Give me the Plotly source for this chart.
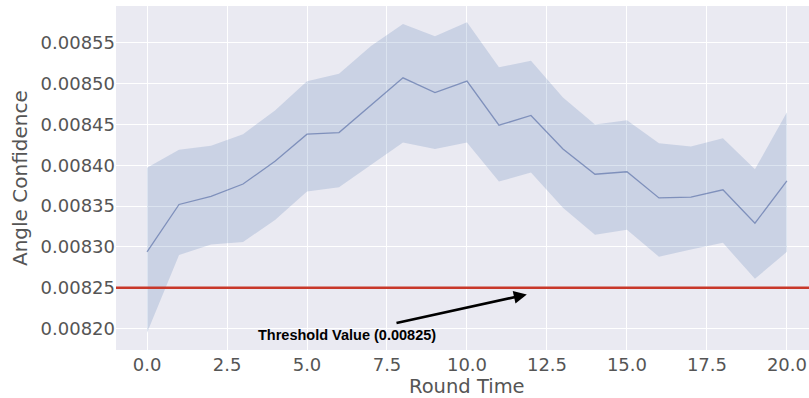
import plotly.graph_objects as go

rounds = list(range(21))
mean_vals = [0.008294, 0.008352, 0.008362, 0.008377, 0.008405, 0.008438, 0.008440, 0.008473, 0.008507, 0.008489, 0.008503,
             0.008449, 0.008461, 0.008420, 0.008389, 0.008392, 0.008360, 0.008361, 0.008370, 0.008329, 0.008381]
upper_vals = [0.008397, 0.008419, 0.008424, 0.008438, 0.008467, 0.008503, 0.008512, 0.008546, 0.008573, 0.008558, 0.008575,
              0.008520, 0.008528, 0.008483, 0.008450, 0.008455, 0.008427, 0.008423, 0.008433, 0.008395, 0.008465]
lower_vals = [0.008195, 0.008290, 0.008303, 0.008306, 0.008333, 0.008368, 0.008373, 0.008401, 0.008428, 0.008420, 0.008428,
              0.008380, 0.008391, 0.008348, 0.008315, 0.008321, 0.008288, 0.008297, 0.008305, 0.008261, 0.008294]
threshold = 0.00825
threshold_label = "Threshold Value (0.00825)"
x_title = "Round Time"
y_title = "Angle Confidence"
x_ticks = [0, 2.5, 5, 7.5, 10, 12.5, 15, 17.5, 20]
x_tick_text = ["0.0", "2.5", "5.0", "7.5", "10.0", "12.5", "15.0", "17.5", "20.0"]

fig = go.Figure()
fig.add_trace(go.Scatter(x=rounds, y=upper_vals, mode="lines", line=dict(width=0),
                         hoverinfo="skip", showlegend=False))
fig.add_trace(go.Scatter(x=rounds, y=lower_vals, mode="lines", line=dict(width=0),
                         fill="tonexty", fillcolor="rgba(76,114,176,0.2)",
                         hoverinfo="skip", showlegend=False))
fig.add_trace(go.Scatter(x=rounds, y=mean_vals, mode="lines",
                         line=dict(color="rgba(76,100,160,0.6)", width=1.3), showlegend=False))

fig.add_shape(type="line", xref="paper", x0=0, x1=1, yref="y", y0=threshold, y1=threshold,
              line=dict(color="#c8382a", width=2.6))

fig.add_annotation(x=11.87, y=0.0082418, ax=7.75, ay=0.0082065, xref="x", yref="y",
                   axref="x", ayref="y", text="", showarrow=True, arrowhead=2,
                   arrowsize=1, arrowwidth=2.6, arrowcolor="black")
fig.add_annotation(x=6.25, y=0.0081925, xref="x", yref="y", text="<b>" + threshold_label + "</b>",
                   showarrow=False, font=dict(family="Liberation Sans, Arial", size=14.5, color="black"))

fig.add_annotation(x=0.5065, y=-0.107, xref="paper", yref="paper", text=x_title,
                   showarrow=False, xanchor="center", yanchor="middle",
                   font=dict(family="DejaVu Sans", size=19.5, color="#555555"))
fig.add_annotation(x=-0.1385, y=0.5, xref="paper", yref="paper", text=y_title, textangle=-90,
                   showarrow=False, xanchor="center", yanchor="middle",
                   font=dict(family="DejaVu Sans", size=20, color="#555555"))

fig.update_layout(
    width=809, height=398,
    margin=dict(l=116, r=0, t=6, b=48),
    paper_bgcolor="white", plot_bgcolor="#EAEAF2",
    font=dict(family="DejaVu Sans", color="#4a4a4a"),
    showlegend=False,
)
fig.update_xaxes(range=[-0.97, 20.69], tickvals=x_ticks, ticktext=x_tick_text,
                 showgrid=True, gridcolor="white", gridwidth=1, zeroline=False,
                 tickfont=dict(size=18, color="#555555"), ticklabelstandoff=2,
                 ticks="", showline=False)
fig.update_yaxes(range=[0.0081738, 0.008595], tick0=0.0082, dtick=0.00005, tickformat=".5f",
                 showgrid=True, gridcolor="white", gridwidth=1, zeroline=False,
                 tickfont=dict(size=18, color="#555555"),
                 ticks="", showline=False)

fig.write_html("out.html")
